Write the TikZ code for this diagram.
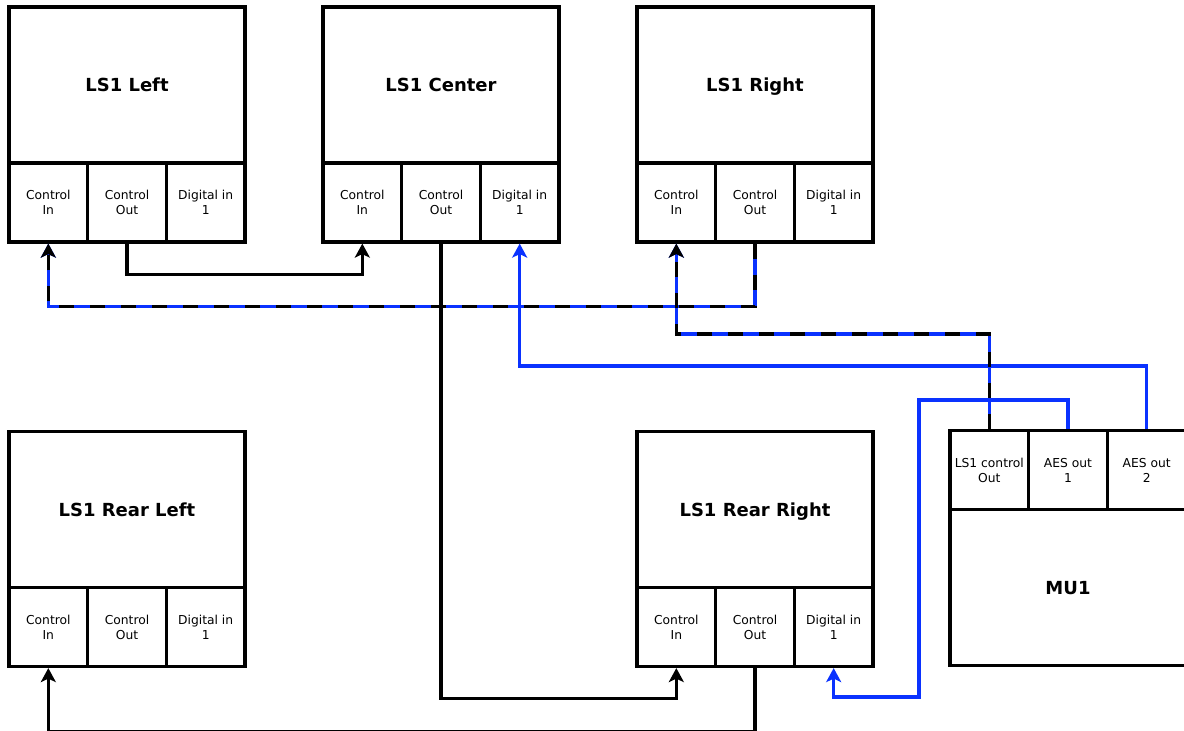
\documentclass[tikz,border=0pt]{standalone}
\usepackage{fontspec}
\setmainfont{DejaVu Sans}
\usetikzlibrary{arrows.meta}
\definecolor{wireblue}{RGB}{10,50,255}
\tikzset{
  title/.style={draw=black, line width=3.2pt, rectangle, inner sep=0pt, minimum width=236pt, minimum height=156pt, text height=13pt, text depth=0pt, font=\fontsize{18}{22}\selectfont\bfseries},
  cell/.style={draw=black, line width=3.2pt, rectangle, inner sep=0pt, minimum width=78.67pt, minimum height=79pt, align=center, font=\fontsize{12.3}{15}\selectfont},
  wire/.style={line width=3.2pt, -{Stealth[length=14pt,width=15pt,inset=3.5pt]}},
  blackwire/.style={wire, draw=black},
  bluewire/.style={wire, draw=wireblue},
  dashwire/.style={wire, draw=wireblue, postaction={draw=black, dash pattern=on 15pt off 16pt}}
}
\begin{document}
\begin{tikzpicture}[x=1pt,y=-1pt]
\useasboundingbox (0,0) rectangle (1184,731);
\clip (0,0) rectangle (1184,731);
% LS1 Left
\node[title] (L) at (127,85) {LS1 Left};
\node[cell] (Lci) at (48.33,202.5) {Control\\In};
\node[cell] (Lco) at (127,202.5) {Control\\Out};
\node[cell] (Ldi) at (205.67,202.5) {Digital in\\1};
% LS1 Center
\node[title] (C) at (441,85) {LS1 Center};
\node[cell] (Cci) at (362.33,202.5) {Control\\In};
\node[cell] (Cco) at (441,202.5) {Control\\Out};
\node[cell] (Cdi) at (519.67,202.5) {Digital in\\1};
% LS1 Right
\node[title] (R) at (755,85) {LS1 Right};
\node[cell] (Rci) at (676.33,202.5) {Control\\In};
\node[cell] (Rco) at (755,202.5) {Control\\Out};
\node[cell] (Rdi) at (833.67,202.5) {Digital in\\1};
% LS1 Rear Left
\node[title] (RL) at (127,509.5) {LS1 Rear Left};
\node[cell] (RLci) at (48.33,627) {Control\\In};
\node[cell] (RLco) at (127,627) {Control\\Out};
\node[cell] (RLdi) at (205.67,627) {Digital in\\1};
% LS1 Rear Right
\node[title] (RR) at (755,509.5) {LS1 Rear Right};
\node[cell] (RRci) at (676.33,627) {Control\\In};
\node[cell] (RRco) at (755,627) {Control\\Out};
\node[cell] (RRdi) at (833.67,627) {Digital in\\1};
% MU1
\node[cell] (Mco) at (989.33,470) {LS1 control\\Out};
\node[cell] (Ma1) at (1068,470) {AES out\\1};
\node[cell] (Ma2) at (1146.67,470) {AES out\\2};
\node[title] (M) at (1068,587.5) {MU1};
% connectors
\coordinate (j5a) at (919,400);
\coordinate (j5b) at (919,697);
\draw[blackwire] (Lco.south) -- ++(0,31) -| (Cci.south);
\draw[blackwire] (Cco.south) -- ++(0,455) -| (RRci.south);
\draw[blackwire] (RRco.south) -- ++(0,63) -| (RLci.south);
\draw[bluewire] (Ma2.north) -- ++(0,-63) -| (Cdi.south);
\draw[bluewire] (Ma1.north) |- (j5a) -- (j5b) -| (RRdi.south);
\draw[dashwire] (Rco.south) -- ++(0,63) -| (Lci.south);
\draw[dashwire] (Mco.north) -- ++(0,-95) -| (Rci.south);
\end{tikzpicture}
\end{document}
